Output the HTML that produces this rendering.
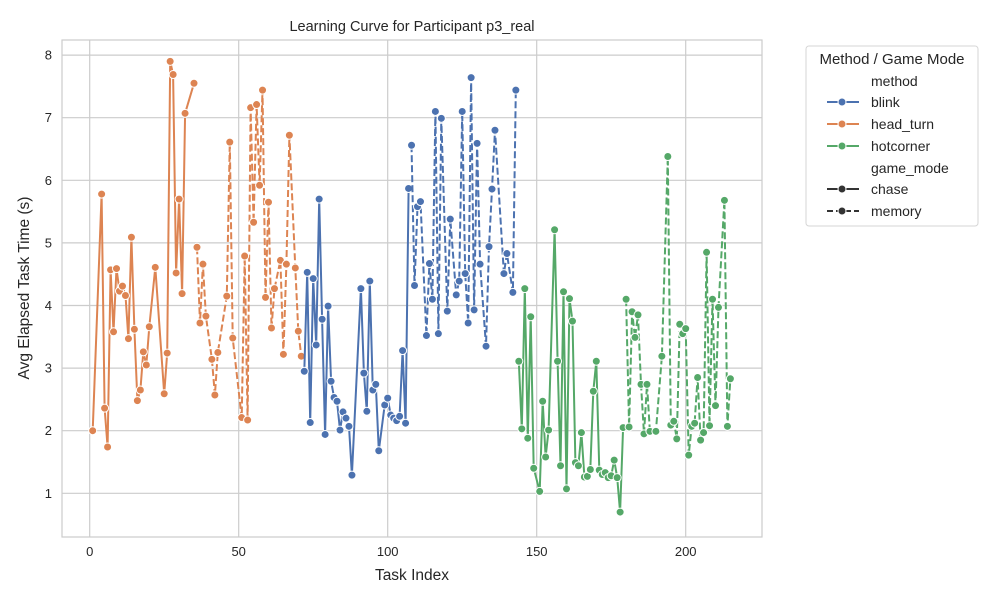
<!DOCTYPE html>
<html><head><meta charset="utf-8"><style>
html,body{margin:0;padding:0;background:#fff;}
svg text{font-family:"Liberation Sans","DejaVu Sans",sans-serif;fill:#262626;}
</style></head><body>
<svg id="chart" width="1000" height="600" xmlns="http://www.w3.org/2000/svg">
<rect width="1000" height="600" fill="#fff"/>
<g id="grid"></g>
<rect x="62" y="40" width="700" height="497" fill="none" stroke="#cccccc" stroke-width="1.2"/>
<g id="marks"></g>
<g id="ticks"></g>
<text x="412" y="31" text-anchor="middle" font-size="14.5">Learning Curve for Participant p3_real</text>
<text x="412" y="580" text-anchor="middle" font-size="15.5">Task Index</text>
<text transform="translate(29,288) rotate(-90)" text-anchor="middle" font-size="15.5">Avg Elapsed Task Time (s)</text>
<g>
<rect x="806" y="46" width="172" height="180" rx="3" fill="#fff" stroke="#d6d6d6"/>
<text x="892" y="64" text-anchor="middle" font-size="15">Method / Game Mode</text>
<text x="871" y="86" font-size="14">method</text>
<g><line x1="827" y1="102" x2="859" y2="102" stroke="#4c72b0" stroke-width="2"/><circle cx="842" cy="102" r="4" fill="#4c72b0" stroke="#fff"/><text x="871" y="107" font-size="14">blink</text></g>
<g><line x1="827" y1="124" x2="859" y2="124" stroke="#dd8452" stroke-width="2"/><circle cx="842" cy="124" r="4" fill="#dd8452" stroke="#fff"/><text x="871" y="129" font-size="14">head_turn</text></g>
<g><line x1="827" y1="146" x2="859" y2="146" stroke="#55a868" stroke-width="2"/><circle cx="842" cy="146" r="4" fill="#55a868" stroke="#fff"/><text x="871" y="151" font-size="14">hotcorner</text></g>
<text x="871" y="173" font-size="14">game_mode</text>
<g><line x1="827" y1="189" x2="859" y2="189" stroke="#333" stroke-width="2"/><circle cx="842" cy="189" r="4" fill="#333" stroke="#fff"/><text x="871" y="194" font-size="14">chase</text></g>
<g><line x1="827" y1="211" x2="859" y2="211" stroke="#333" stroke-width="2" stroke-dasharray="6,3"/><circle cx="842" cy="211" r="4" fill="#333" stroke="#fff"/><text x="871" y="216" font-size="14">memory</text></g>
</g>
</svg>
<script>
const xTicks=[0,50,100,150,200];
const yTicks=[1,2,3,4,5,6,7,8];
const headChaseX=[1,4,5,6,7,8,9,10,11,12,13,14,15,16,17,18,19,20,22,25,26,27,28,29,30,31,32,35];
const headChaseY=[2.00,5.78,2.36,1.74,4.57,3.58,4.59,4.23,4.31,4.16,3.47,5.09,3.62,2.48,2.65,3.26,3.05,3.66,4.61,2.59,3.24,7.90,7.69,4.52,5.70,4.19,7.07,7.55];
const headMemX=[36,37,38,39,41,42,43,46,47,48,51,52,53,54,55,56,57,58,59,60,61,62,64,65,66,67,69,70,71];
const headMemY=[4.93,3.72,4.66,3.83,3.14,2.57,3.25,4.15,6.61,3.48,2.21,4.79,2.17,7.16,5.33,7.21,5.92,7.44,4.13,5.65,3.64,4.27,4.72,3.22,4.66,6.72,4.60,3.59,3.19];
const blinkChaseX=[72,73,74,75,76,77,78,79,80,81,82,83,84,85,86,87,88,91,92,93,94,95,96,97,99,100,101,102,103,104,105,106,107];
const blinkChaseY=[2.95,4.53,2.13,4.43,3.37,5.70,3.78,1.94,3.99,2.79,2.53,2.47,2.01,2.30,2.20,2.07,1.29,4.27,2.92,2.31,4.39,2.65,2.74,1.68,2.41,2.52,2.25,2.20,2.16,2.23,3.28,2.12,5.87];
const blinkMemX=[108,109,110,111,113,114,115,116,117,118,120,121,123,124,125,126,127,128,129,130,131,133,134,135,136,139,140,142,143];
const blinkMemY=[6.56,4.32,5.58,5.66,3.52,4.67,4.10,7.10,3.55,6.99,3.91,5.38,4.17,4.39,7.10,4.51,3.72,7.64,3.93,6.59,4.66,3.35,4.94,5.86,6.80,4.51,4.83,4.21,7.44];
const hotChaseX=[144,145,146,147,148,149,151,152,153,154,156,157,158,159,160,161,162,163,164,165,166,167,168,169,170,171,172,173,174,175,176,177,178,179];
const hotChaseY=[3.11,2.03,4.27,1.88,3.82,1.40,1.03,2.47,1.58,2.01,5.21,3.11,1.44,4.22,1.07,4.11,3.75,1.49,1.44,1.97,1.26,1.27,1.38,2.63,3.11,1.37,1.30,1.33,1.25,1.28,1.53,1.25,0.70,2.05];
const hotMemX=[180,181,182,183,184,185,186,187,188,190,192,194,195,196,197,198,199,200,201,202,203,204,205,206,207,208,209,210,211,213,214,215];
const hotMemY=[4.10,2.06,3.90,3.49,3.85,2.74,1.95,2.74,1.99,1.99,3.19,6.38,2.09,2.15,1.87,3.70,3.55,3.63,1.61,2.07,2.12,2.85,1.85,1.97,4.85,2.08,4.10,2.40,3.97,5.68,2.07,2.83];

const NS='http://www.w3.org/2000/svg';
const xs=v=>89.7+v*2.98;
const ys=v=>493.3-(v-1)*62.6;
function mk(tag,attrs,parent){const e=document.createElementNS(NS,tag);for(const k in attrs)e.setAttribute(k,attrs[k]);parent.appendChild(e);return e;}
const grid=document.getElementById('grid'),ticks=document.getElementById('ticks'),marks=document.getElementById('marks');
xTicks.forEach(t=>{
  const l=mk('line',{x1:xs(t),x2:xs(t),y1:40,y2:537,stroke:'#cccccc','stroke-width':1.2},grid);
  
  
  const tx=mk('text',{x:xs(t),y:556,'text-anchor':'middle','font-size':13},ticks);
  tx.textContent=t;
  
  
});
yTicks.forEach(t=>{
  const l=mk('line',{x1:62,x2:762,y1:ys(t),y2:ys(t),stroke:'#cccccc','stroke-width':1.2},grid);
  
  
  const tx=mk('text',{x:52,y:ys(t)+4.5,'text-anchor':'end','font-size':13},ticks);
  tx.textContent=t;
  
  
});
function series(name,X,Y,color,dashed){
  const g=mk('g',{},marks);
  
  
  const d=X.map((x,i)=>(i?'L':'M')+xs(x).toFixed(1)+','+ys(Y[i]).toFixed(1)).join(' ');
  const p=mk('path',{d:d,fill:'none',stroke:color,'stroke-width':2,'stroke-linejoin':'round'},g);
  if(dashed)p.setAttribute('stroke-dasharray','7,3');
  
  
  X.forEach((x,i)=>{
    const c=mk('circle',{cx:xs(x),cy:ys(Y[i]),r:4,fill:color,stroke:'#fff','stroke-width':1},g);
    
    
  });
}
series('head-turn-chase',headChaseX,headChaseY,'#dd8452',false);
series('head-turn-memory',headMemX,headMemY,'#dd8452',true);
series('blink-chase',blinkChaseX,blinkChaseY,'#4c72b0',false);
series('blink-memory',blinkMemX,blinkMemY,'#4c72b0',true);
series('hotcorner-chase',hotChaseX,hotChaseY,'#55a868',false);
series('hotcorner-memory',hotMemX,hotMemY,'#55a868',true);
</script>
</body></html>
